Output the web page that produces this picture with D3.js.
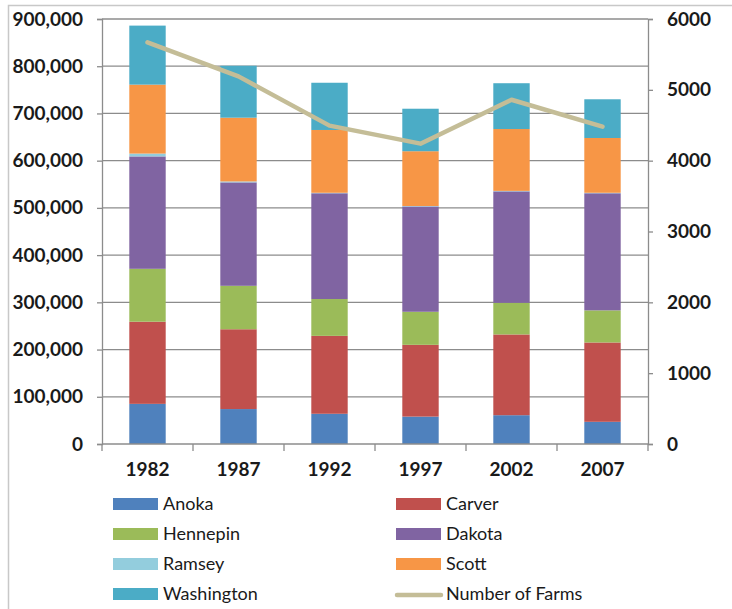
<!DOCTYPE html>
<html>
<head>
<meta charset="utf-8">
<script src="https://cdn.jsdelivr.net/npm/d3@7"></script>
<style>
  body { margin: 0; background: #fff; }
  text { font-family: Lato, "Open Sans", sans-serif; fill: #1a1a1a; }
</style>
</head>
<body>
<div id="chart"></div>
<script>
// data
const years = ["1982", "1987", "1992", "1997", "2002", "2007"];
const counties = ["Anoka", "Carver", "Hennepin", "Dakota", "Ramsey", "Scott", "Washington"];
const anoka      = [85000, 74000, 64000, 58000, 61000, 47000];
const carver     = [174000, 169000, 165000, 152000, 171000, 168000];
const hennepin   = [112000, 92000, 78000, 70000, 67000, 68000];
const dakota     = [238000, 219000, 224000, 223000, 236000, 248000];
const ramsey     = [6000, 2000, 1000, 1000, 1000, 1000];
const scott      = [146000, 135000, 133000, 116000, 131000, 116000];
const washington = [125000, 110000, 100000, 90000, 97000, 82000];
const farms = [5670, 5190, 4495, 4240, 4860, 4480];
const leftTicks = [0, 100000, 200000, 300000, 400000, 500000, 600000, 700000, 800000, 900000];
const rightTicks = [0, 1000, 2000, 3000, 4000, 5000, 6000];

const colors = ["#4f81bd", "#c0504d", "#9bbb59", "#8064a2", "#93cddd", "#f79646", "#4bacc6"];
const lineColor = "#c4bd97";
const gridColor = "#8c8c8c";

const W = 732, H = 609;
const pLeft = 102, pRight = 648, pTop = 19, pBottom = 444;

const svg = d3.select("#chart").append("svg")
  .attr("width", W)
  .attr("height", H);

// outer chart border
svg.append("rect")
  .attr("x", 8.5).attr("y", 5.5)
  .attr("width", W + 20).attr("height", H + 20)
  .attr("fill", "none")
  .attr("stroke", "#c8c8c8")
  .attr("stroke-width", 1.5);

const series = [anoka, carver, hennepin, dakota, ramsey, scott, washington];
const rows = years.map((yr, i) => {
  const r = { year: yr };
  counties.forEach((c, k) => { r[c] = series[k][i]; });
  return r;
});
const stacked = d3.stack().keys(counties)(rows);

const x = d3.scaleBand().domain(years).range([pLeft, pRight]).paddingInner(0.6).paddingOuter(0.3);
const xb = d3.scaleBand().domain(years).range([pLeft, pRight]);
const y = d3.scaleLinear().domain([0, 900000]).range([pBottom, pTop]);
const y2 = d3.scaleLinear().domain([0, 6000]).range([pBottom, pTop]);

// gridlines
svg.append("g")
  .selectAll("line")
  .data(leftTicks.slice(1))
  .join("line")
  .attr("x1", pLeft).attr("x2", pRight)
  .attr("y1", d => y(d)).attr("y2", d => y(d))
  .attr("stroke", gridColor)
  .attr("stroke-width", 1.3);

// stacked bars
svg.append("g")
  .selectAll("g")
  .data(stacked)
  .join("g")
  .attr("fill", (d, i) => colors[i])
  .selectAll("rect")
  .data(d => d)
  .join("rect")
  .attr("x", d => x(d.data.year))
  .attr("width", x.bandwidth())
  .attr("y", d => y(d[1]))
  .attr("height", d => Math.max(0, y(d[0]) - y(d[1])));

// left axis
const axL = svg.append("g")
  .attr("transform", `translate(${pLeft},0)`)
  .call(d3.axisLeft(y).tickValues(leftTicks).tickFormat(d3.format(",")).tickSize(5).tickPadding(14));

// right axis
const axR = svg.append("g")
  .attr("transform", `translate(${pRight},0)`)
  .call(d3.axisRight(y2).tickValues(rightTicks).tickFormat(d3.format("d")).tickSize(5).tickPadding(14));

// bottom axis, ticks between categories
const axB = svg.append("g")
  .attr("transform", `translate(0,${pBottom})`)
  .call(d3.axisBottom(x).tickSize(0).tickPadding(19));
axB.append("g")
  .selectAll("line")
  .data(years)
  .join("line")
  .attr("x1", d => xb(d)).attr("x2", d => xb(d))
  .attr("y1", 0).attr("y2", 7)
  .attr("stroke", gridColor)
  .attr("stroke-width", 1.3);
axB.append("line")
  .attr("x1", pRight).attr("x2", pRight).attr("y1", 0).attr("y2", 7)
  .attr("stroke", gridColor).attr("stroke-width", 1.3);

[axL, axR, axB].forEach(a => {
  a.select(".domain").attr("stroke", gridColor).attr("stroke-width", 1.3);
  a.selectAll(".tick line").attr("stroke", gridColor).attr("stroke-width", 1.3);
  a.selectAll(".tick text")
    .attr("font-family", "Lato, sans-serif")
    .attr("font-size", 19)
    .attr("font-weight", "bold")
    .attr("fill", "#1a1a1a");
});
axB.select(".domain").attr("d", `M${pLeft},0H${pRight}`);

// number of farms line
const line = d3.line()
  .x((d, i) => x(years[i]) + x.bandwidth() / 2)
  .y(d => y2(d));
svg.append("path")
  .datum(farms)
  .attr("d", line)
  .attr("fill", "none")
  .attr("stroke", lineColor)
  .attr("stroke-width", 4.5)
  .attr("stroke-linecap", "round")
  .attr("stroke-linejoin", "round");

// legend
const legendItems = counties.concat(["Number of Farms"]);
const legend = svg.append("g");
const item = legend.selectAll("g")
  .data(legendItems)
  .join("g")
  .attr("transform", (d, i) => `translate(${i % 2 === 0 ? 113 : 396},${504 + Math.floor(i / 2) * 30})`);

item.each(function (d, i) {
  const g = d3.select(this);
  if (i < counties.length) {
    g.append("rect")
      .attr("x", 0).attr("y", -6)
      .attr("width", 45).attr("height", 12)
      .attr("fill", colors[i]);
  } else {
    g.append("line")
      .attr("x1", 1).attr("x2", 45)
      .attr("y1", 1).attr("y2", 1)
      .attr("stroke", lineColor)
      .attr("stroke-width", 4.5)
      .attr("stroke-linecap", "round");
  }
  g.append("text")
    .attr("x", 50)
    .attr("y", 0)
    .attr("dy", "0.36em")
    .attr("font-size", 18)
    .text(d);
});
</script>
</body>
</html>
